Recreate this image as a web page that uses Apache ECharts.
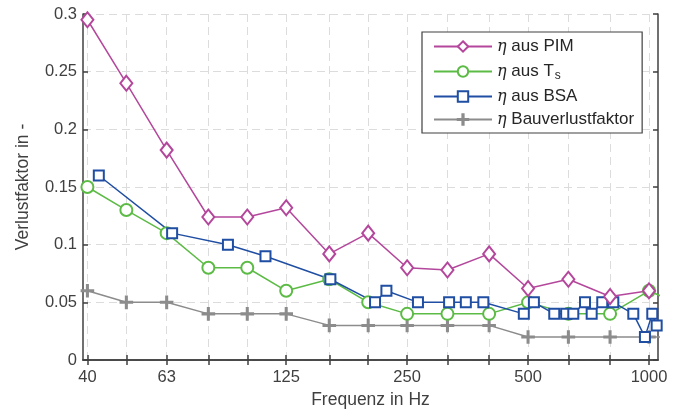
<!DOCTYPE html>
<html lang="de">
<head>
    <meta charset="UTF-8">
    <title>Verlustfaktor</title>
    <style>
        html, body { margin: 0; padding: 0; background: #fff; }
        #chart { width: 683px; height: 414px; }
    </style>
</head>
<body>
    <div id="chart"></div>
<script src="https://cdn.jsdelivr.net/npm/echarts@6/dist/echarts.min.js"></script>
<script type="text/javascript">
    // Terzbaender (Hz)
    var bands = [40, 50, 63, 80, 100, 125, 160, 200, 250, 315, 400, 500, 630, 800, 1000];
    var labelFreqs = [40, 63, 125, 250, 500, 1000];

    // eta aus PIM
    var pimFreqs = bands;
    var pimVals = [0.295, 0.24, 0.182, 0.124, 0.124, 0.132, 0.092, 0.11, 0.08, 0.078, 0.092, 0.062, 0.07, 0.055, 0.06];

    // eta aus Ts (letzter Punkt ausserhalb des Plots)
    var tsFreqs = [40, 50, 63, 80, 100, 125, 160, 200, 250, 315, 400, 500, 630, 800, 1000, 1250];
    var tsVals = [0.15, 0.13, 0.11, 0.08, 0.08, 0.06, 0.07, 0.05, 0.04, 0.04, 0.04, 0.05, 0.04, 0.04, 0.06, 0.045];

    // eta aus BSA
    var bsaFreqs = [42.7, 65, 89.5, 111, 161, 208, 222, 266, 318, 350, 387, 488, 517, 581, 622, 648, 693, 720, 765, 815, 914, 977, 1019, 1045];
    var bsaVals = [0.16, 0.11, 0.10, 0.09, 0.07, 0.05, 0.06, 0.05, 0.05, 0.05, 0.05, 0.04, 0.05, 0.04, 0.04, 0.04, 0.05, 0.04, 0.05, 0.05, 0.04, 0.02, 0.04, 0.03];

    // eta Bauverlustfaktor
    var bauFreqs = [40, 50, 63, 80, 100, 125, 160, 200, 250, 315, 400, 500, 630, 800, 1000, 1250];
    var bauVals = [0.06, 0.05, 0.05, 0.04, 0.04, 0.04, 0.03, 0.03, 0.03, 0.03, 0.03, 0.02, 0.02, 0.02, 0.02, 0.02];

    var names = {
        pim: '{i|η} aus PIM',
        ts: '{i|η} aus T{sub|s}',
        bsa: '{i|η} aus BSA',
        bau: '{i|η} Bauverlustfaktor'
    };

    var lg = function (v) { return Math.log10(v); };
    function pairs(fs, vs) {
        return fs.map(function (f, i) { return [lg(f), vs[i]]; });
    }

    var xMin = lg(39), xMax = lg(1053);
    var axisColor = '#404040';
    var fontFam = 'Liberation Sans, Arial, sans-serif';
    var plusPath = 'path://M4.4,0 h1.2 v4.4 h4.4 v1.2 h-4.4 v4.4 h-1.2 v-4.4 h-4.4 v-1.2 h4.4 z';

    var myChart = echarts.init(document.getElementById('chart'));

    function lineSeries(key, data, color, symbol, size) {
        return {
            name: key,
            type: 'line',
            data: data,
            symbol: symbol,
            symbolSize: size,
            clip: true,
            lineStyle: { color: color, width: 1.5 },
            itemStyle: { color: color, borderColor: color, borderWidth: 1.6 },
            emphasis: { disabled: true },
            z: 3
        };
    }

    myChart.setOption({
        animation: false,
        textStyle: { fontFamily: fontFam },
        grid: { left: 83, right: 25, top: 14, bottom: 53 },
        legend: {
            orient: 'vertical',
            left: 422,
            top: 32,
            padding: [6, 8, 5, 11],
            itemGap: 6,
            itemWidth: 58,
            itemHeight: 13,
            backgroundColor: '#fff',
            borderColor: axisColor,
            borderWidth: 1.2,
            data: ['pim', 'ts', 'bsa', 'bau'],
            formatter: function (n) { return names[n]; },
            textStyle: {
                color: '#262626',
                fontSize: 17,
                lineHeight: 17,
                rich: {
                    i: { fontFamily: 'DejaVu Serif', fontStyle: 'italic', fontSize: 16, lineHeight: 17, color: '#262626' },
                    sub: { fontSize: 12, lineHeight: 17, color: '#262626', padding: [9, 0, 0, 1] }
                }
            },
            selectedMode: false
        },
        xAxis: [{
            type: 'value',
            min: xMin,
            max: xMax,
            name: 'Frequenz in Hz',
            nameLocation: 'middle',
            nameGap: 31,
            nameTextStyle: { color: axisColor, fontSize: 17.5 },
            axisLine: { lineStyle: { color: axisColor, width: 1.5 } },
            axisTick: {
                inside: true, length: 5,
                customValues: bands.map(lg),
                lineStyle: { color: axisColor, width: 1.5 }
            },
            axisLabel: {
                customValues: labelFreqs.map(lg),
                color: axisColor, fontSize: 16.5, margin: 9,
                formatter: function (v) { return String(Math.round(Math.pow(10, v))); }
            },
            splitLine: { show: true, lineStyle: { color: '#dcdcdc', type: [8, 5], width: 1 } }
        }, {
            type: 'value',
            position: 'top',
            min: xMin,
            max: xMax,
            axisLine: { show: true, lineStyle: { color: axisColor, width: 1.5 } },
            axisTick: {
                inside: true, length: 5,
                customValues: bands.map(lg),
                lineStyle: { color: axisColor, width: 1.5 }
            },
            axisLabel: { show: false },
            splitLine: { show: false }
        }],
        yAxis: [{
            type: 'value',
            min: 0,
            max: 0.3,
            interval: 0.05,
            name: 'Verlustfaktor in -',
            nameLocation: 'middle',
            nameGap: 51,
            nameTextStyle: { color: axisColor, fontSize: 17.5 },
            axisLine: { show: true, lineStyle: { color: axisColor, width: 1.5 } },
            axisTick: { show: true, inside: true, length: 5, lineStyle: { color: axisColor, width: 1.5 } },
            axisLabel: { color: axisColor, fontSize: 16.5, margin: 6 },
            splitLine: { show: true, lineStyle: { color: '#dcdcdc', type: [8, 5], width: 1 } }
        }, {
            type: 'value',
            position: 'right',
            min: 0,
            max: 0.3,
            interval: 0.05,
            axisLine: { show: true, lineStyle: { color: axisColor, width: 1.5 } },
            axisTick: { show: true, inside: true, length: 5, lineStyle: { color: axisColor, width: 1.5 } },
            axisLabel: { show: false },
            splitLine: { show: false }
        }],
        series: [
            lineSeries('bau', pairs(bauFreqs, bauVals), '#8c8c8c', plusPath, 12),
            lineSeries('ts', pairs(tsFreqs, tsVals), '#5cbb45', 'emptyCircle', 12),
            lineSeries('bsa', pairs(bsaFreqs, bsaVals), '#1f4ea3', 'emptyRect', 10),
            lineSeries('pim', pairs(pimFreqs, pimVals), '#b4479c', 'emptyDiamond', [12, 15])
        ]
    });
</script>
</body>
</html>
